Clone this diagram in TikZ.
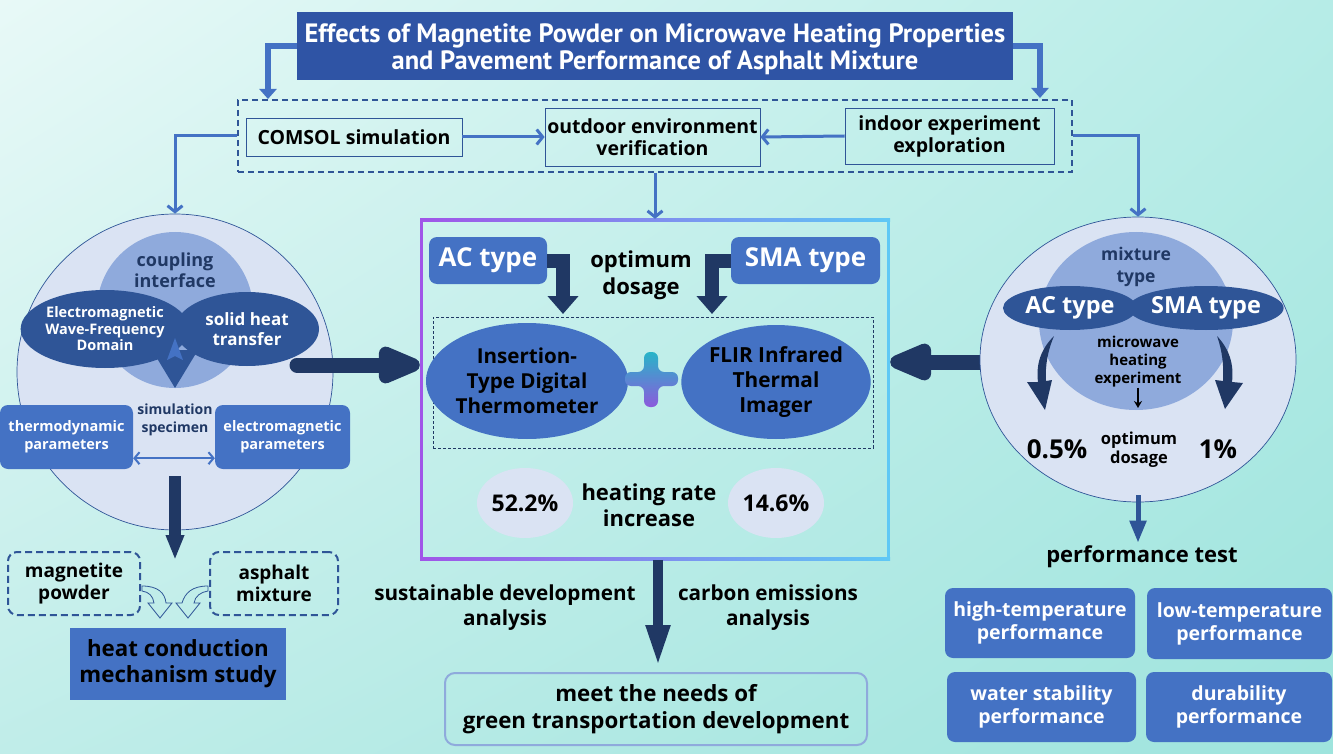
\documentclass[tikz,border=0pt]{standalone}
\usepackage{fontspec}
\setmainfont{Open Sans}
\newfontfamily\titlefont{PT Sans}
\usetikzlibrary{arrows.meta,shapes.geometric,calc,shadings}
\definecolor{dblue}{RGB}{47,85,151}
\definecolor{mblue}{RGB}{68,114,196}
\definecolor{navy}{RGB}{32,56,100}
\definecolor{lblue}{RGB}{143,170,220}
\definecolor{pale}{RGB}{218,227,243}
\definecolor{tblue}{RGB}{47,84,165}
\definecolor{bgA}{RGB}{232,249,247}
\definecolor{bgB}{RGB}{182,236,231}
\definecolor{bgC}{RGB}{192,237,233}
\definecolor{bgD}{RGB}{158,228,221}
\definecolor{purp}{RGB}{160,85,232}
\definecolor{sky}{RGB}{95,200,245}
\definecolor{pteal}{RGB}{40,180,200}
\definecolor{ppurp}{RGB}{140,90,220}
\newcommand\fsz[2]{\fontsize{#1}{#2}\selectfont\bfseries}
\tikzset{
 lab/.style={align=center, inner sep=0pt},
 wbox/.style={draw=dblue, line width=0.8pt, align=center, inner sep=0pt, font=\fsz{19.5}{22}},
 bbox/.style={fill=mblue, rounded corners=8pt, align=center, inner sep=0pt, text=white},
 dbox/.style={draw=dblue, line width=2pt, dash pattern=on 7pt off 4pt, rounded corners=9pt, align=center, inner sep=0pt, font=\fsz{19}{22}},
 tarr/.style={mblue, line width=5.5pt, -{Triangle[length=10pt,width=17pt]}},
 barb/.style={mblue, line width=3pt, -{Straight Barb[length=6pt,width=15pt]}},
 bigarr/.style={navy, line width=15pt, line cap=round, -{Triangle[length=54pt,width=39pt,round]}},
 bentarr/.style={navy, line width=14pt, -{Triangle[length=18pt,width=30pt]}},
 ell/.style={ellipse, inner sep=0pt, align=center},
}
\begin{document}
\begin{tikzpicture}[x=1pt,y=-1pt]
\useasboundingbox (0,0) rectangle (1333,754);
\shade[upper left=bgA, upper right=bgB, lower left=bgC, lower right=bgD] (0,0) rectangle (1333,754);

% title
\node[fill=tblue, minimum width=716pt, minimum height=68pt, inner sep=0pt] (title) at (655,46) {};
\node[lab, text=white, font=\titlefont\fsz{26.5}{27}] (titletext) at (655,49) {Effects of Magnetite Powder on Microwave Heating Properties\\and Pavement Performance of Asphalt Mixture};

% dashed method box
\node[draw=dblue, line width=1.5pt, dash pattern=on 6pt off 4pt, minimum width=834pt, minimum height=72pt, inner sep=0pt] (dash) at (655,136) {};
\node[wbox, minimum width=216pt, minimum height=38pt] (comsol) at (354,137) {COMSOL simulation};
\node[wbox, minimum width=215pt, minimum height=58pt] (outdoor) at (652.5,137) {outdoor environment\\verification};
\node[wbox, minimum width=209pt, minimum height=56pt] (indoor) at (949.5,136) {indoor experiment\\exploration};
\coordinate (tl) at (268,99);
\coordinate (tr) at (1040,98);
\draw[tarr] (title.west) -| (tl);
\draw[tarr] (title.east) -| (tr);
\draw[barb] (comsol.east) -- (outdoor.west);
\draw[barb] (indoor.west) -- (outdoor.east);

% left circle
\node[circle, draw=dblue, line width=0.7pt, fill=pale, minimum size=316pt, inner sep=0pt] (lc) at (175,372) {};
\node[circle, fill=lblue, minimum size=156pt, inner sep=0pt] (cpl) at (175,310) {};
\node[lab, text=navy, font=\fsz{18}{21}] (cpltxt) at (175,270) {coupling\\interface};
\fill[dblue] (152,350) -- (198,350) -- (175,388) -- cycle;
\node[ell, fill=dblue, minimum width=140pt, minimum height=78pt, text=white, font=\fsz{14.5}{16.5}] (emw) at (105,329) {Electromagnetic\\Wave-Frequency\\Domain};
\node[ell, fill=dblue, minimum width=144pt, minimum height=74pt, text=white, font=\fsz{17}{20}] (sht) at (247,329) {solid heat\\transfer};
\fill[mblue] (175,338) -- (183,360) -- (175,356) -- (167,360) -- cycle;
\node[bbox, minimum width=133pt, minimum height=64pt, font=\fsz{14.5}{18}] (thermo) at (66.5,437) {thermodynamic\\parameters};
\node[bbox, minimum width=135pt, minimum height=64pt, font=\fsz{14.5}{18}] (emp) at (282.5,437) {electromagnetic\\parameters};
\node[lab, text=navy, font=\fsz{14}{18}] (simspec) at (175,420) {simulation\\specimen};
\draw[mblue, line width=2pt, {Straight Barb[length=5pt,width=12pt]}-{Straight Barb[length=5pt,width=12pt]}] ($(thermo.south east)+(0,-11)$) -- ($(emp.south west)+(0,-11)$);
\draw[barb] (dash.west) -| (lc.north);

% left bottom
\coordinate (lcs) at (175,476);
\coordinate (lct) at (175,560);
\draw[navy, line width=12pt, -{Triangle[length=25pt,width=17pt]}] (lcs) -- (lct);
\node[dbox, minimum width=132pt, minimum height=63pt] (mag) at (74,583.5) {magnetite\\powder};
\node[dbox, minimum width=128pt, minimum height=63pt] (asp) at (274,583.5) {asphalt\\mixture};
\node[fill=mblue, minimum width=216pt, minimum height=72pt, inner sep=0pt, align=center, font=\fsz{22.3}{26}] (hcm) at (178,664) {heat conduction\\mechanism study};
\filldraw[fill=bgC, draw=dblue, line width=0.8pt] (142,586) .. controls (158,586) and (165,593) .. (166,603) -- (172,603) -- (160,618) -- (148,603) -- (154,603) .. controls (153,596) and (149,592) .. (142,591) -- cycle;
\filldraw[fill=bgC, draw=dblue, line width=0.8pt] (208,586) .. controls (192,586) and (185,593) .. (182,603) -- (176,603) -- (188,618) -- (200,603) -- (194,603) .. controls (195,596) and (201,592) .. (208,591) -- cycle;

% center frame
\node[minimum width=470pt, minimum height=341pt, inner sep=0pt] (cbox) at (655,389.5) {};
\shade[left color=purp, right color=sky] (420,219) rectangle (890,222);
\shade[left color=purp, right color=sky] (420,557) rectangle (890,560);
\fill[purp] (420,219) rectangle (423,560);
\fill[sky] (887,219) rectangle (890,560);
\draw[barb] (dash.south) -- (cbox.north);

\node[bbox, minimum width=118pt, minimum height=47pt, font=\fsz{26}{28}] (ac) at (488,260.5) {AC type};
\node[bbox, minimum width=149pt, minimum height=47pt, font=\fsz{26}{28}] (sma) at (805.5,260.5) {SMA type};
\node[lab, font=\fsz{22}{27}] (optd) at (641,275) {optimum\\dosage};
\coordinate (acd) at (563,314);
\coordinate (smad) at (712,314);
\draw[bentarr] (ac.east) -| (acd);
\draw[bentarr] (sma.west) -| (smad);
\node[draw=navy, line width=0.6pt, dash pattern=on 3pt off 2pt, minimum width=440pt, minimum height=131pt, inner sep=0pt] (inner) at (653,382.5) {};
\node[ell, fill=mblue, minimum width=176pt, minimum height=116pt, font=\fsz{20.6}{25}] (itd) at (527,381) {Insertion-\\Type Digital\\Thermometer};
\node[ell, fill=mblue, minimum width=176pt, minimum height=114pt, font=\fsz{20.8}{25}] (flir) at (776,382) {FLIR Infrared\\Thermal\\Imager};
\shade[top color=pteal, bottom color=ppurp, rounded corners=6pt] (644,352) -- (658,352) -- (658,372) -- (678,372) -- (678,386) -- (658,386) -- (658,407) -- (644,407) -- (644,386) -- (625,386) -- (625,372) -- (644,372) -- cycle;
\node[ell, fill=pale, minimum width=96pt, minimum height=70pt, font=\fsz{23}{28}] (p1) at (525,503) {52.2\%};
\node[ell, fill=pale, minimum width=96pt, minimum height=70pt, font=\fsz{23}{28}] (p2) at (776,503) {14.6\%};
\node[lab, font=\fsz{22}{26}] (hri) at (649,505) {heating rate\\increase};

% big arrows
\coordinate (lst) at (297,365);
\coordinate (rst) at (1013,362);
\draw[bigarr] (lst) -- (cbox.west |- lst);
\draw[bigarr] (rst) -- (cbox.east |- rst);

% bottom center
\node[draw=lblue, line width=2pt, rounded corners=10pt, minimum width=422pt, minimum height=72pt, inner sep=0pt, align=center, font=\fsz{22.3}{27}] (green) at (656,709) {meet the needs of\\green transportation development};
\coordinate (gtip) at (658,667);
\draw[navy, line width=10pt, -{Triangle[length=42pt,width=22pt]}] (cbox.south -| gtip) -- (gtip);
\node[lab, font=\fsz{20.7}{25}] (sda) at (505,608) {sustainable development\\analysis};
\node[lab, font=\fsz{20.7}{25}] (cea) at (768,608) {carbon emissions\\analysis};

% right circle
\node[ellipse, draw=dblue, line width=0.7pt, fill=pale, minimum width=316pt, minimum height=285pt, inner sep=0pt] (rc) at (1138,359.5) {};
\draw[barb] (dash.east) -| (rc.north);
\node[ellipse, fill=lblue, minimum width=194pt, minimum height=178pt, inner sep=0pt] (mix) at (1136,321) {};
\node[lab, text=navy, font=\fsz{17.5}{22}] (mixt) at (1136,266.5) {mixture\\type};
\node[ell, fill=dblue, minimum width=134pt, minimum height=44pt, text=white, font=\fsz{23.5}{26}] (ac2) at (1070,308) {AC type};
\node[ell, fill=dblue, minimum width=139pt, minimum height=44pt, text=white, font=\fsz{23.5}{26}] (sma2) at (1206,308) {SMA type};
\node[lab, font=\fsz{15}{18}] (mhe) at (1138,362) {microwave\\heating\\experiment};
\coordinate (mhet) at (1138,408);
\draw[black, line width=1.5pt, -{Stealth[length=7pt,width=8pt]}] (mhe.south) -- (mhet);
\fill[navy] (1054,336) .. controls (1040,350) and (1036,365) .. (1038,382) -- (1027,382) -- (1045,410) -- (1052,380) -- (1046,381) .. controls (1045,365) and (1048,350) .. (1054,336) -- cycle;
\fill[navy] (1217,336) .. controls (1230,350) and (1234,365) .. (1232,382) -- (1243,383) -- (1225,409) -- (1215,380) -- (1223,381) .. controls (1224,365) and (1222,350) .. (1217,336) -- cycle;
\node[lab, font=\fsz{26}{30}] (p05) at (1057,449) {0.5\%};
\node[lab, font=\fsz{26}{30}] (p1b) at (1218,449) {1\%};
\node[lab, font=\fsz{16.5}{19}] (optd2) at (1139,450) {optimum\\dosage};

% performance
\node[lab, font=\fsz{22}{24}] (perf) at (1142,557) {performance test};
\coordinate (rcs) at (1138,495);
\draw[dblue, line width=5pt, -{Triangle[length=22pt,width=16pt]}] (rcs) -- ($(perf.north)+(-4,-3)$);
\node[bbox, minimum width=190pt, minimum height=70pt, font=\fsz{19.5}{23}] (hi) at (1040,623) {high-temperature\\performance};
\node[bbox, minimum width=185pt, minimum height=71pt, font=\fsz{19.5}{23}] (lo) at (1239.5,623.5) {low-temperature\\performance};
\node[bbox, minimum width=189pt, minimum height=70pt, font=\fsz{19.5}{23}] (ws) at (1041.5,707) {water stability\\performance};
\node[bbox, minimum width=186pt, minimum height=70pt, font=\fsz{19.5}{23}] (du) at (1239,707) {durability\\performance};
\end{tikzpicture}
\end{document}
